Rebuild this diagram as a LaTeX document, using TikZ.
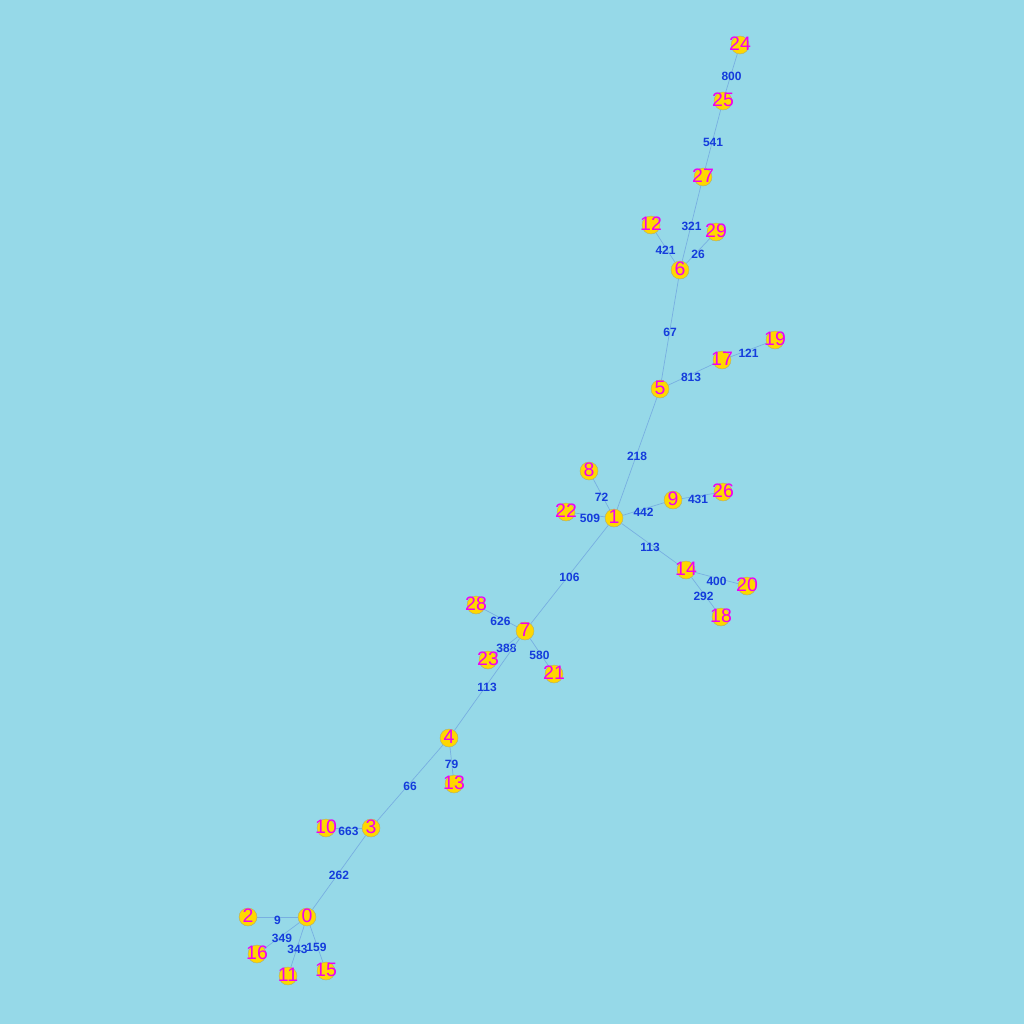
\documentclass[tikz,border=0pt]{standalone}
\usepackage{fontspec}
\setmainfont{Liberation Sans}
\usepackage{tikz}
\usetikzlibrary{backgrounds}

\definecolor{sky}{RGB}{150,217,232}
\definecolor{gold}{RGB}{255,215,0}
\definecolor{rim}{RGB}{170,170,120}
\definecolor{pink}{RGB}{240,0,240}
\definecolor{wblue}{RGB}{20,60,220}
\definecolor{wire}{RGB}{120,175,225}

\begin{document}
\begin{tikzpicture}[x=1pt, y=-1pt,
  vertex/.style={circle, draw=rim, fill=gold, minimum size=18pt, inner sep=0pt},
  %
  num/.style={text=pink, font=\fontsize{19.5}{19.5}\selectfont, inner sep=0pt,
    yshift=1pt},
  %
  wt/.style={text=wblue, font=\bfseries\fontsize{12}{12}\selectfont, inner sep=0pt,
    yshift=-3pt},
  %
  edge/.style={draw=wire, line width=.7pt}
  ]

  \useasboundingbox (0,0) rectangle (1024,1024);

  \begin{scope}
    %%%%%%%%%%%%%%%%%%%%%%%%%%%%%%% vertices
    \foreach \n/\x/\y in {24/740/45, 25/723/101, 27/703/177, 12/651/225,
      29/716/232, 6/680/270, 19/775/340, 17/722/360, 5/660/389, 8/589/471,
      9/673/500, 26/723/492, 22/566/512, 1/614/518, 14/686/570, 20/747/586,
      18/721/617, 28/476/605, 7/525/631, 23/488/660, 21/554/674, 4/449/738,
      13/454/784, 10/326/828, 3/371/828, 2/248/917, 0/307/917, 16/257/954,
      11/288/976, 15/326/971}
    \node [vertex, label={[num]center:\n}] (n\n) at (\x,\y) {};
  \end{scope}

  \begin{scope}[on background layer]
    \fill [sky] (0,0) rectangle (1024,1024);
    %%%%%%%%%%%%%%%%%%%%%%%%%%%%%%% weighted edges
    \foreach \a/\b/\w in {24/25/800, 25/27/541, 27/6/321, 12/6/421, 29/6/26,
      6/5/67, 17/19/121, 5/17/813, 5/1/218, 8/1/72, 22/1/509, 1/9/442,
      9/26/431, 1/14/113, 14/20/400, 14/18/292, 1/7/106, 28/7/626,
      7/23/388, 7/21/580, 7/4/113, 4/13/79, 4/3/66, 10/3/663, 3/0/262,
      2/0/9, 16/0/349, 11/0/343, 15/0/159}
    \draw [edge] (n\a) -- node [wt] {\w} (n\b);
  \end{scope}

\end{tikzpicture}
\end{document}
